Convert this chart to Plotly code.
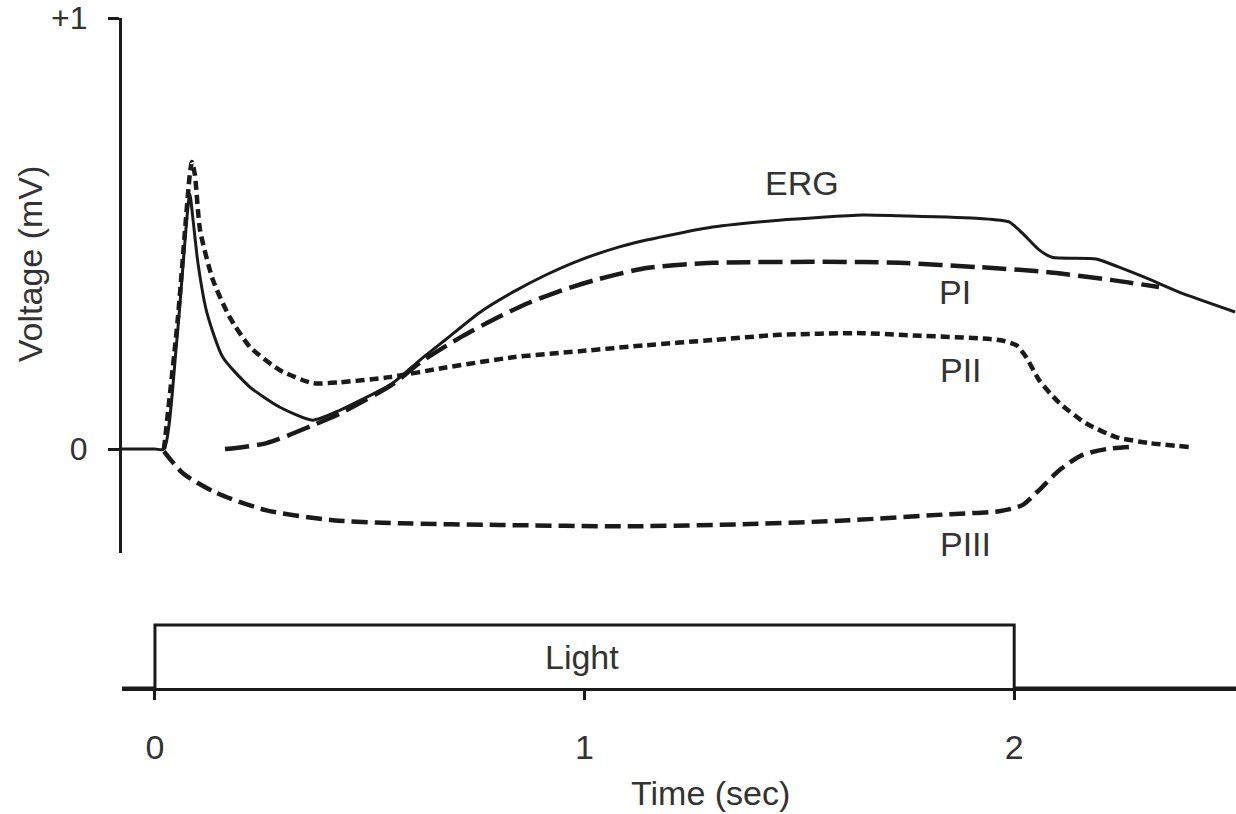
import plotly.graph_objects as go

# ---------------- data ----------------
# time in seconds, voltage in mV
erg_t = [-0.077, 0.0, 0.021, 0.051, 0.081, 0.088, 0.100, 0.121, 0.158, 0.221,
         0.291, 0.367, 0.430, 0.553, 0.616, 0.679, 0.756, 0.833, 0.912, 0.988,
         1.081, 1.144, 1.298, 1.453, 1.647, 1.733, 1.919, 1.988, 2.019, 2.058,
         2.088, 2.191, 2.244, 2.307, 2.384, 2.514]
erg_v = [0.0, 0.0, 0.0, 0.253, 0.592, 0.538, 0.432, 0.316, 0.213, 0.144,
         0.097, 0.067, 0.090, 0.153, 0.206, 0.256, 0.317, 0.364, 0.405, 0.438,
         0.469, 0.485, 0.515, 0.531, 0.543, 0.541, 0.535, 0.527, 0.501, 0.462,
         0.445, 0.441, 0.422, 0.397, 0.364, 0.318]

p1_t = [0.163, 0.260, 0.367, 0.430, 0.553, 0.616, 0.679, 0.716, 0.795, 0.872,
        0.949, 1.028, 1.144, 1.298, 1.647, 1.733, 1.919, 2.074, 2.228, 2.337]
p1_v = [0.0, 0.014, 0.055, 0.082, 0.150, 0.200, 0.240, 0.262, 0.304, 0.340,
        0.369, 0.393, 0.420, 0.432, 0.434, 0.432, 0.422, 0.411, 0.392, 0.376]

p2_t = [0.021, 0.053, 0.081, 0.086, 0.093, 0.105, 0.135, 0.174, 0.221, 0.291,
        0.367, 0.430, 0.547, 0.670, 0.833, 0.988, 1.144, 1.298, 1.453, 1.647,
        1.733, 1.965, 2.005, 2.028, 2.058, 2.105, 2.167, 2.237, 2.314, 2.407]
p2_v = [0.0, 0.30, 0.636, 0.666, 0.636, 0.508, 0.392, 0.306, 0.237, 0.183,
        0.153, 0.155, 0.167, 0.188, 0.213, 0.227, 0.241, 0.253, 0.265, 0.269,
        0.265, 0.253, 0.241, 0.213, 0.160, 0.107, 0.060, 0.028, 0.014, 0.005]

p3_t = [0.021, 0.065, 0.144, 0.260, 0.414, 0.570, 0.802, 1.105, 1.384, 1.616,
        1.849, 1.965, 2.019, 2.058, 2.105, 2.158, 2.214, 2.267]
p3_v = [-0.005, -0.056, -0.102, -0.142, -0.165, -0.172, -0.176, -0.179, -0.174, -0.165,
        -0.151, -0.144, -0.130, -0.095, -0.049, -0.014, 0.0, 0.005]

light_t = [-0.077, 0.0, 0.0, 2.0, 2.0, 2.52]
light_on = [0, 0, 1, 1, 0, 0]

x_ticks = [0, 1, 2]
y_ticks = [0, 1]
y_ticktext = ["0", "+1"]

# ---------------- figure ----------------
INK = "#1a1a1a"
TXT = "#333333"
FONT = "Liberation Sans, Arial, sans-serif"

fig = go.Figure()
fig.add_trace(go.Scatter(x=p3_t, y=p3_v, mode="lines", name="PIII",
                         line=dict(color=INK, width=4.5, dash="16px,7px",
                                   shape="spline", smoothing=0.7)))
fig.add_trace(go.Scatter(x=p2_t, y=p2_v, mode="lines", name="PII",
                         line=dict(color=INK, width=4.5, dash="9px,5px",
                                   shape="spline", smoothing=0.6)))
fig.add_trace(go.Scatter(x=p1_t, y=p1_v, mode="lines", name="PI",
                         line=dict(color=INK, width=4.5, dash="24px,8px",
                                   shape="spline", smoothing=0.7)))
fig.add_trace(go.Scatter(x=erg_t, y=erg_v, mode="lines", name="ERG",
                         line=dict(color=INK, width=3,
                                   shape="spline", smoothing=0.6)))
fig.add_trace(go.Scatter(x=light_t, y=light_on, mode="lines", name="Light",
                         yaxis="y2", line=dict(color=INK, width=3),
                         cliponaxis=False))

fig.update_layout(
    width=1236, height=814,
    margin=dict(l=122, r=0, t=18, b=126),
    plot_bgcolor="white", paper_bgcolor="white",
    showlegend=False,
    font=dict(family=FONT, color=TXT, size=34),
    xaxis=dict(range=[-0.0767, 2.5163], anchor="y2",
               showline=True, linewidth=3, linecolor=INK,
               ticks="outside", tickvals=x_ticks, ticklen=9, tickwidth=3,
               tickcolor=INK, showgrid=False, zeroline=False,
               tickfont=dict(size=34, color=TXT, family=FONT),
               ticklabelstandoff=18),
    yaxis=dict(domain=[0.2015, 1.0], range=[-0.241, 1.0], anchor="x",
               showline=True, linewidth=3, linecolor=INK,
               ticks="outside", tickvals=y_ticks, ticktext=y_ticktext,
               ticklen=11, tickwidth=3, tickcolor=INK,
               showgrid=False, zeroline=False,
               tickfont=dict(size=32, color=TXT, family=FONT),
               ticklabelstandoff=14),
    yaxis2=dict(domain=[0.0, 0.1175], range=[0, 1.25], visible=False,
                anchor="x"),
)

ann = [
    dict(text="ERG", x=1.505, y=0.617, xref="x", yref="y"),
    dict(text="PI", x=1.863, y=0.364, xref="x", yref="y"),
    dict(text="PII", x=1.877, y=0.183, xref="x", yref="y"),
    dict(text="PIII", x=1.886, y=-0.219, xref="x", yref="y"),
    dict(text="Light", x=0.995, y=0.49, xref="x", yref="y2"),
    dict(text="Time (sec)", x=0.528, y=-0.157, xref="paper", yref="paper"),
    dict(text="Voltage (mV)", x=-0.0826, y=0.634, xref="paper", yref="paper",
         textangle=-90),
]
for a in ann:
    fig.add_annotation(showarrow=False, xanchor="center", yanchor="middle",
                       font=dict(size=34, color=TXT, family=FONT), **a)

fig.write_html(
    "out.html",
    config={"displayModeBar": False},
    post_script="document.body.style.margin='0';document.body.style.overflow='hidden';",
)
